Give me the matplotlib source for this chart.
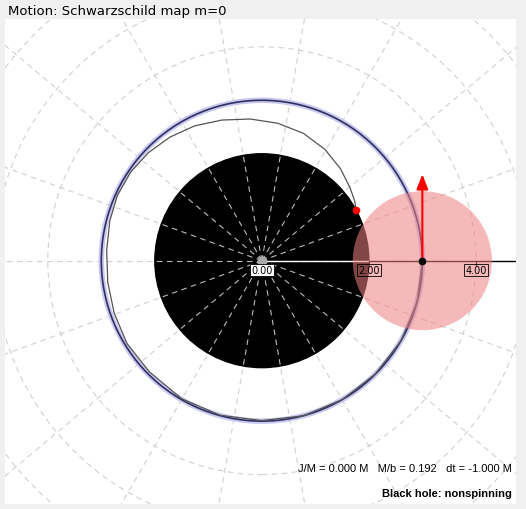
import numpy as np
import matplotlib.pyplot as plt
from matplotlib.patches import Circle

# Data (units of M)
horizon_r = 2.0
photon_r = 3.0
body_x, body_y = 3.0, 0.0
body_r = 1.3
arrow_len = 1.67
orbit_x = [3.0, 2.90, 2.60, 2.12, 1.50, 0.78, 0.0, -0.78, -1.50, -2.10, -2.52, -2.76, -2.88, -2.90,
           -2.84, -2.70, -2.45, -2.12, -1.72, -1.26, -0.75, -0.22, 0.30, 0.78, 1.18, 1.47, 1.65, 1.74, 1.76]
orbit_y = [0.0, -0.78, -1.50, -2.12, -2.60, -2.90, -2.99, -2.89, -2.58, -2.08, -1.55, -0.98, -0.40, 0.20,
           0.75, 1.22, 1.66, 2.02, 2.31, 2.52, 2.63, 2.65, 2.57, 2.38, 2.08, 1.72, 1.36, 1.10, 0.95]
tick_vals = [0.0, 2.0, 4.0]
grid_radii = [4, 5, 6, 7, 8]
spoke_angles = np.arange(0, 360, 20)

fig = plt.figure(figsize=(5.26, 5.10), dpi=100)
fig.patch.set_facecolor('#f0f0f0')
fig.text(8 / 526, 1 - 11 / 510, "Motion: Schwarzschild map m=0", fontsize=9.5,
         va='center', ha='left', family='DejaVu Sans')

ax = fig.add_axes([5 / 526, 1 - 505 / 510, 511 / 526, 485 / 510])
ax.set_xlim(-4.80, 4.75)
ax.set_ylim(-4.55, 4.52)
ax.set_facecolor('white')
ax.set_xticks([])
ax.set_yticks([])
for s in ax.spines.values():
    s.set_visible(False)

grid_kw = dict(color='#d0d0d0', lw=0.8, ls=(0, (5, 4)))
for r in grid_radii:
    ax.add_patch(Circle((0, 0), r, fill=False, zorder=1, **grid_kw))
for a in spoke_angles:
    t = np.radians(a)
    ax.plot([0, 10 * np.cos(t)], [0, 10 * np.sin(t)], zorder=1, **grid_kw)

# horizon
ax.add_patch(Circle((0, 0), horizon_r, color='black', zorder=2))
for a in spoke_angles:
    t = np.radians(a)
    ax.plot([0, horizon_r * np.cos(t)], [0, horizon_r * np.sin(t)], color='#bbbbbb',
            lw=0.8, ls=(0, (5, 4)), zorder=3)

# axis line
ax.plot([0, horizon_r], [0, 0], color='white', lw=1, zorder=4)
ax.plot([horizon_r, 10], [0, 0], color='black', lw=1, zorder=4)
for v in tick_vals[1:]:
    ax.plot([v, v], [0, -0.08], color='black', lw=0.8, zorder=4)

# photon sphere
ax.add_patch(Circle((0, 0), photon_r, fill=False, ec='#c8c8f0', lw=4, zorder=5))
ax.add_patch(Circle((0, 0), photon_r, fill=False, ec='#303060', lw=1.2, zorder=6))

# orbit
ax.plot(orbit_x, orbit_y, color='#555555', lw=0.9, zorder=6)
ax.plot(orbit_x[-1], orbit_y[-1], 'o', color='red', ms=4.5, zorder=8)

# body
ax.add_patch(Circle((body_x, body_y), body_r, color='#f08080', alpha=0.55, lw=0, zorder=7))
ax.annotate('', xy=(body_x, body_y + arrow_len), xytext=(body_x, body_y),
            arrowprops=dict(arrowstyle='-|>,head_width=0.35,head_length=0.9', color='red', lw=1.5),
            zorder=9)
ax.plot(body_x, body_y, 'o', color='black', ms=4.5, zorder=9)
ax.plot(0, 0, 'o', color='#aaaaaa', ms=6, zorder=9)

for v in tick_vals:
    ax.text(v, -0.17, f"{v:.2f}", fontsize=7, ha='center', va='center', zorder=10,
            bbox=dict(boxstyle='square,pad=0.12', fc='white' if v == 0 else 'none',
                      ec='black', lw=0.6))

ax.text(4.68, -3.87, "J/M = 0.000 M   M/b = 0.192   dt = -1.000 M", fontsize=8,
        ha='right', va='center', family='Liberation Sans', zorder=10)
ax.text(4.68, -4.34, "Black hole: nonspinning", fontsize=8, fontweight='bold',
        ha='right', va='center', family='Liberation Sans', zorder=10)

fig.savefig('out.png', dpi=100, facecolor=fig.get_facecolor())
